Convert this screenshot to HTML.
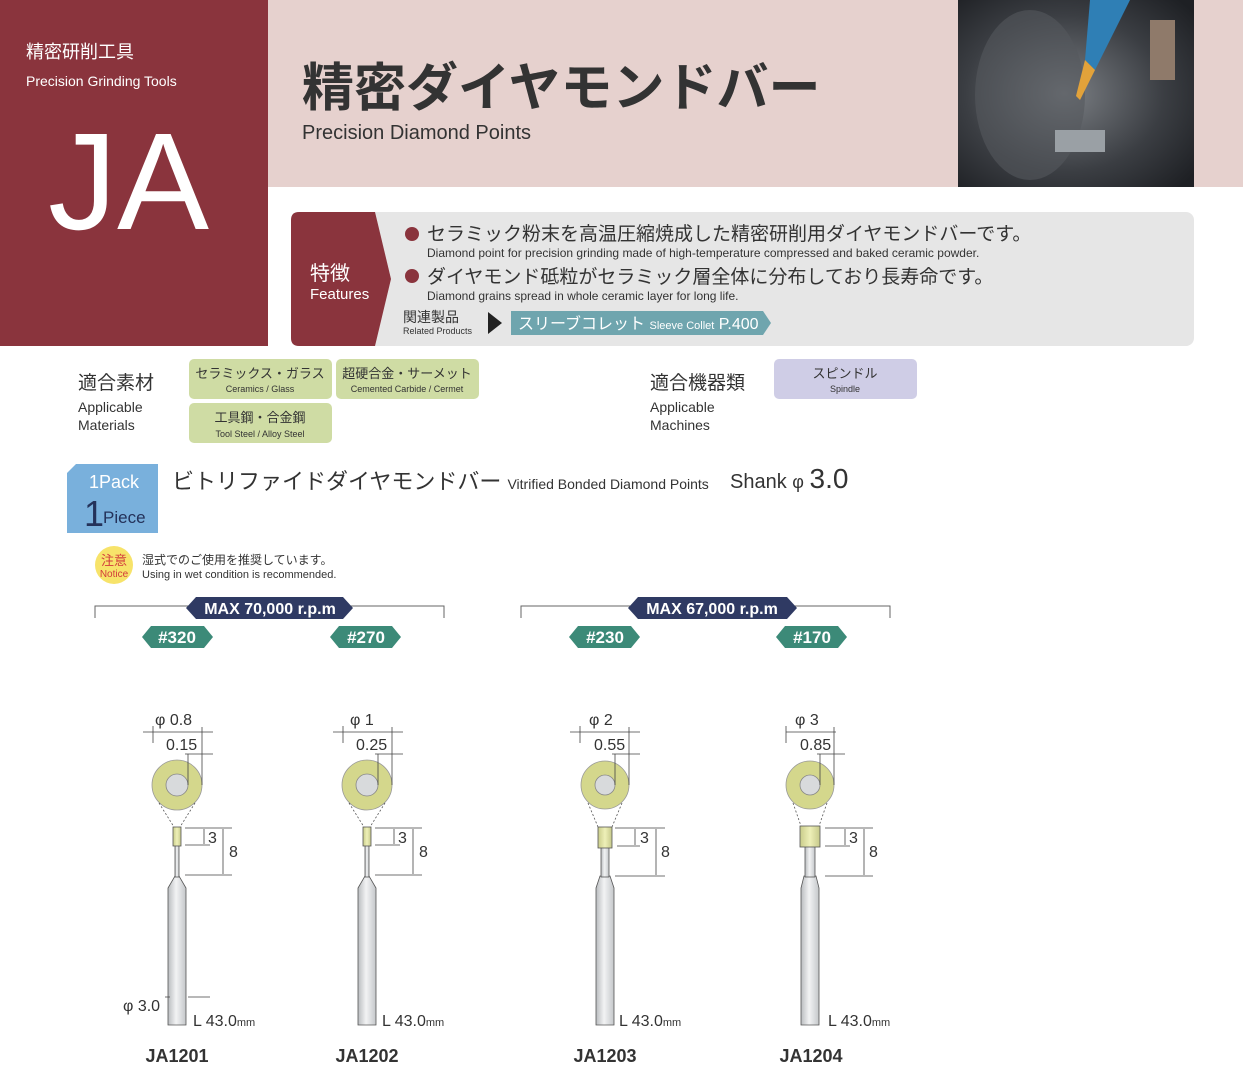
<!DOCTYPE html>
<html><head><meta charset="utf-8"><style>
body{margin:0;background:#fff;}
svg{display:block;font-family:"Liberation Sans","Noto Sans CJK JP",sans-serif;}
</style></head><body>
<svg width="1243" height="1079" viewBox="0 0 1243 1079" xmlns="http://www.w3.org/2000/svg">
<defs>
<linearGradient id="sh" x1="0" x2="1"><stop offset="0" stop-color="#b9bcbf"/><stop offset="0.45" stop-color="#f2f3f4"/><stop offset="1" stop-color="#c4c7ca"/></linearGradient>
<linearGradient id="tp" x1="0" x2="1"><stop offset="0" stop-color="#c9cc8a"/><stop offset="0.5" stop-color="#eef0b8"/><stop offset="1" stop-color="#c6c98a"/></linearGradient>
<radialGradient id="ph" cx="0.45" cy="0.5" r="0.7"><stop offset="0" stop-color="#7b7f84"/><stop offset="0.6" stop-color="#3b3e43"/><stop offset="1" stop-color="#1e2024"/></radialGradient>
</defs>
<rect x="0" y="0" width="268" height="346" fill="#8a343d"/>
<rect x="268" y="0" width="975" height="187" fill="#e6d1ce"/>
<text x="26" y="58" font-size="18" fill="#fff">精密研削工具</text>
<text x="26" y="86" font-size="14" fill="#fff">Precision Grinding Tools</text>
<text x="48" y="229" font-size="138" fill="#fff">JA</text>
<text x="302" y="106" font-size="52" font-weight="bold" fill="#333">精密ダイヤモンドバー</text>
<text x="302" y="139" font-size="20" fill="#333">Precision Diamond Points</text>
<rect x="958" y="0" width="236" height="187" fill="url(#ph)"/>
<ellipse cx="1030" cy="95" rx="55" ry="85" fill="#55595e" opacity="0.6"/>
<rect x="1055" y="130" width="50" height="22" fill="#9aa0a5"/>
<path d="M1090 0 L1130 0 L1095 70 L1085 60Z" fill="#2f7fb5"/>
<path d="M1085 60 L1095 70 L1080 100 L1076 96Z" fill="#e2a23a"/>
<rect x="1150" y="20" width="25" height="60" fill="#8f7a6a"/>
<rect x="291" y="212" width="903" height="134" rx="8" fill="#e6e6e6"/>
<path d="M299 212 L375 212 L391 279 L375 346 L299 346 Q291 346 291 338 L291 220 Q291 212 299 212Z" fill="#8a343d"/>
<text x="310" y="280" font-size="20" fill="#fff">特徴</text>
<text x="310" y="299" font-size="15" fill="#fff">Features</text>
<circle cx="412" cy="234" r="7" fill="#8a343d"/>
<text x="427" y="240" font-size="19" fill="#333">セラミック粉末を高温圧縮焼成した精密研削用ダイヤモンドバーです。</text>
<text x="427" y="257" font-size="12" fill="#333">Diamond point for precision grinding made of high-temperature compressed and baked ceramic powder.</text>
<circle cx="412" cy="276" r="7" fill="#8a343d"/>
<text x="427" y="283" font-size="19" fill="#333">ダイヤモンド砥粒がセラミック層全体に分布しており長寿命です。</text>
<text x="427" y="300" font-size="12" fill="#333">Diamond grains spread in whole ceramic layer for long life.</text>
<text x="403" y="322" font-size="14" fill="#333">関連製品</text>
<text x="403" y="334" font-size="9" fill="#333">Related Products</text>
<path d="M488 312 L502 323 L488 334Z" fill="#222"/>
<path d="M511 311 L763 311 L771 323 L763 335 L511 335Z" fill="#6fa5ae"/>
<text x="518" y="329" font-size="16" fill="#fff">スリーブコレット <tspan font-size="11">Sleeve Collet</tspan> P.400</text>
<text x="78" y="389" font-size="19" fill="#333">適合素材</text>
<text x="78" y="412" font-size="14" fill="#333">Applicable</text>
<text x="78" y="430" font-size="14" fill="#333">Materials</text>
<rect x="189" y="359" width="143" height="40" rx="5" fill="#cfdca4"/>
<text x="260" y="378" font-size="13" fill="#333" text-anchor="middle">セラミックス・ガラス</text>
<text x="260" y="392" font-size="9" fill="#333" text-anchor="middle">Ceramics / Glass</text>
<rect x="336" y="359" width="143" height="40" rx="5" fill="#cfdca4"/>
<text x="407" y="378" font-size="13" fill="#333" text-anchor="middle">超硬合金・サーメット</text>
<text x="407" y="392" font-size="9" fill="#333" text-anchor="middle">Cemented Carbide / Cermet</text>
<rect x="189" y="403" width="143" height="40" rx="5" fill="#cfdca4"/>
<text x="260" y="422" font-size="13" fill="#333" text-anchor="middle">工具鋼・合金鋼</text>
<text x="260" y="437" font-size="9" fill="#333" text-anchor="middle">Tool Steel / Alloy Steel</text>
<text x="650" y="389" font-size="19" fill="#333">適合機器類</text>
<text x="650" y="412" font-size="14" fill="#333">Applicable</text>
<text x="650" y="430" font-size="14" fill="#333">Machines</text>
<rect x="774" y="359" width="143" height="40" rx="5" fill="#cfcde6"/>
<text x="845" y="378" font-size="13" fill="#333" text-anchor="middle">スピンドル</text>
<text x="845" y="392" font-size="9" fill="#333" text-anchor="middle">Spindle</text>
<path d="M76 464 L158 464 L158 533 L67 533 L67 473Z" fill="#79b0dc"/>
<text x="89" y="488" font-size="18" fill="#fff">1Pack</text>
<text x="84" y="526" font-size="36" fill="#24325a">1</text>
<text x="103" y="523" font-size="17" fill="#24325a">Piece</text>
<text x="172" y="489" font-size="22" fill="#333">ビトリファイドダイヤモンドバー <tspan font-size="14">Vitrified Bonded Diamond Points</tspan></text>
<text x="730" y="488" font-size="20" fill="#333">Shank <tspan font-size="18">φ</tspan> <tspan font-size="28">3.0</tspan></text>
<circle cx="114" cy="565" r="19" fill="#f7e36a"/>
<text x="114" y="565" font-size="13" fill="#d23b3b" text-anchor="middle">注意</text>
<text x="114" y="577" font-size="10" fill="#d23b3b" text-anchor="middle">Notice</text>
<text x="142" y="564" font-size="12" fill="#333">湿式でのご使用を推奨しています。</text>
<text x="142" y="578" font-size="11" fill="#333">Using in wet condition is recommended.</text>
<g stroke="#666" fill="none" stroke-width="1">
<path d="M95 618 V606 H444 V618"/><path d="M521 618 V606 H890 V618"/>
</g>
<path d="M196 597 L343 597 L353 608 L343 619 L196 619 L186 608Z" fill="#2f3a63"/>
<text x="270" y="614" font-size="16" font-weight="bold" fill="#fff" text-anchor="middle">MAX 70,000 r.p.m</text>
<path d="M638 597 L787 597 L797 608 L787 619 L638 619 L628 608Z" fill="#2f3a63"/>
<text x="712" y="614" font-size="16" font-weight="bold" fill="#fff" text-anchor="middle">MAX 67,000 r.p.m</text>
<g fill="#3c8a78">
<path d="M151 626 L204 626 L213 637 L204 648 L151 648 L142 637Z"/>
<path d="M339 626 L392 626 L401 637 L392 648 L339 648 L330 637Z"/>
<path d="M578 626 L631 626 L640 637 L631 648 L578 648 L569 637Z"/>
<path d="M785 626 L838 626 L847 637 L838 648 L785 648 L776 637Z"/>
</g>
<g fill="#fff" font-size="17" font-weight="bold" text-anchor="middle">
<text x="177" y="643">#320</text><text x="366" y="643">#270</text><text x="605" y="643">#230</text><text x="812" y="643">#170</text>
</g>
<g stroke="#555" stroke-width="0.8">
<g transform="translate(177,0)">
<circle cx="0" cy="785" r="25" fill="#d4d78c" stroke="#999"/><circle cx="0" cy="785" r="11" fill="#d8dadc" stroke="#888"/>
<path d="M-18 803 L-3 827 M18 803 L3 827" stroke-dasharray="2,2" fill="none"/>
<path d="M-9 888 L-9 1025 L9 1025 L9 888 L2 876 L-2 876Z" fill="url(#sh)"/>
<rect x="-2" y="845" width="4" height="32" fill="url(#sh)"/>
<rect x="-4" y="827" width="8" height="19" fill="url(#tp)"/>
</g>
<g transform="translate(367,0)">
<circle cx="0" cy="785" r="25" fill="#d4d78c" stroke="#999"/><circle cx="0" cy="785" r="11" fill="#d8dadc" stroke="#888"/>
<path d="M-18 803 L-3 827 M18 803 L3 827" stroke-dasharray="2,2" fill="none"/>
<path d="M-9 888 L-9 1025 L9 1025 L9 888 L2 876 L-2 876Z" fill="url(#sh)"/>
<rect x="-2" y="845" width="4" height="32" fill="url(#sh)"/>
<rect x="-4" y="827" width="8" height="19" fill="url(#tp)"/>
</g>
<g transform="translate(605,0)">
<circle cx="0" cy="785" r="24" fill="#d4d78c" stroke="#999"/><circle cx="0" cy="785" r="10" fill="#d8dadc" stroke="#888"/>
<path d="M-17 803 L-7 827 M17 803 L7 827" stroke-dasharray="2,2" fill="none"/>
<path d="M-9 888 L-9 1025 L9 1025 L9 888 L5 876 L-5 876Z" fill="url(#sh)"/>
<rect x="-4" y="847" width="8" height="30" fill="url(#sh)"/>
<rect x="-7" y="827" width="14" height="21" fill="url(#tp)"/>
</g>
<g transform="translate(810,0)">
<circle cx="0" cy="785" r="24" fill="#d4d78c" stroke="#999"/><circle cx="0" cy="785" r="10" fill="#d8dadc" stroke="#888"/>
<path d="M-17 803 L-9 826 M17 803 L9 826" stroke-dasharray="2,2" fill="none"/>
<path d="M-9 888 L-9 1025 L9 1025 L9 888 L6 876 L-6 876Z" fill="url(#sh)"/>
<rect x="-5" y="846" width="10" height="31" fill="url(#sh)"/>
<rect x="-10" y="826" width="20" height="21" fill="url(#tp)"/>
</g>
</g>
<g stroke="#444" stroke-width="0.8" fill="none">
<path d="M143 732 H213 M153 726 V743 M202 727 V785 M185 754 H213 M188 754 V785"/>
<path d="M185 828 H232 M185 845 H210 M204 829 V844 M185 875 H232 M223 829 V874"/>
<path d="M165 997 H170 M188 997 H210"/>
<path d="M333 732 H403 M343 726 V743 M392 727 V785 M375 754 H403 M378 754 V785"/>
<path d="M375 828 H422 M375 845 H400 M394 829 V844 M375 875 H422 M413 829 V874"/>
<path d="M570 732 H640 M580 726 V743 M629 727 V785 M612 754 H640 M615 754 V785"/>
<path d="M615 828 H665 M617 846 H640 M635 829 V845 M615 876 H665 M656 829 V875"/>
<path d="M786 732 H836 M786 726 V743 M834 727 V785 M817 754 H845 M820 754 V785"/>
<path d="M825 828 H873 M825 846 H850 M845 829 V845 M825 876 H873 M864 829 V875"/>
</g>
<g font-size="16" fill="#333">
<text x="155" y="725">φ 0.8</text><text x="166" y="750">0.15</text>
<text x="208" y="843">3</text><text x="229" y="857">8</text>
<text x="123" y="1011">φ 3.0</text>
<text x="193" y="1026">L 43.0<tspan font-size="11">mm</tspan></text>
<text x="350" y="725">φ 1</text><text x="356" y="750">0.25</text>
<text x="398" y="843">3</text><text x="419" y="857">8</text>
<text x="382" y="1026">L 43.0<tspan font-size="11">mm</tspan></text>
<text x="589" y="725">φ 2</text><text x="594" y="750">0.55</text>
<text x="640" y="843">3</text><text x="661" y="857">8</text>
<text x="619" y="1026">L 43.0<tspan font-size="11">mm</tspan></text>
<text x="795" y="725">φ 3</text><text x="800" y="750">0.85</text>
<text x="849" y="843">3</text><text x="869" y="857">8</text>
<text x="828" y="1026">L 43.0<tspan font-size="11">mm</tspan></text>
</g>
<g font-size="18" font-weight="bold" fill="#333" text-anchor="middle">
<text x="177" y="1062">JA1201</text><text x="367" y="1062">JA1202</text><text x="605" y="1062">JA1203</text><text x="811" y="1062">JA1204</text>
</g>
</svg>
</body></html>
